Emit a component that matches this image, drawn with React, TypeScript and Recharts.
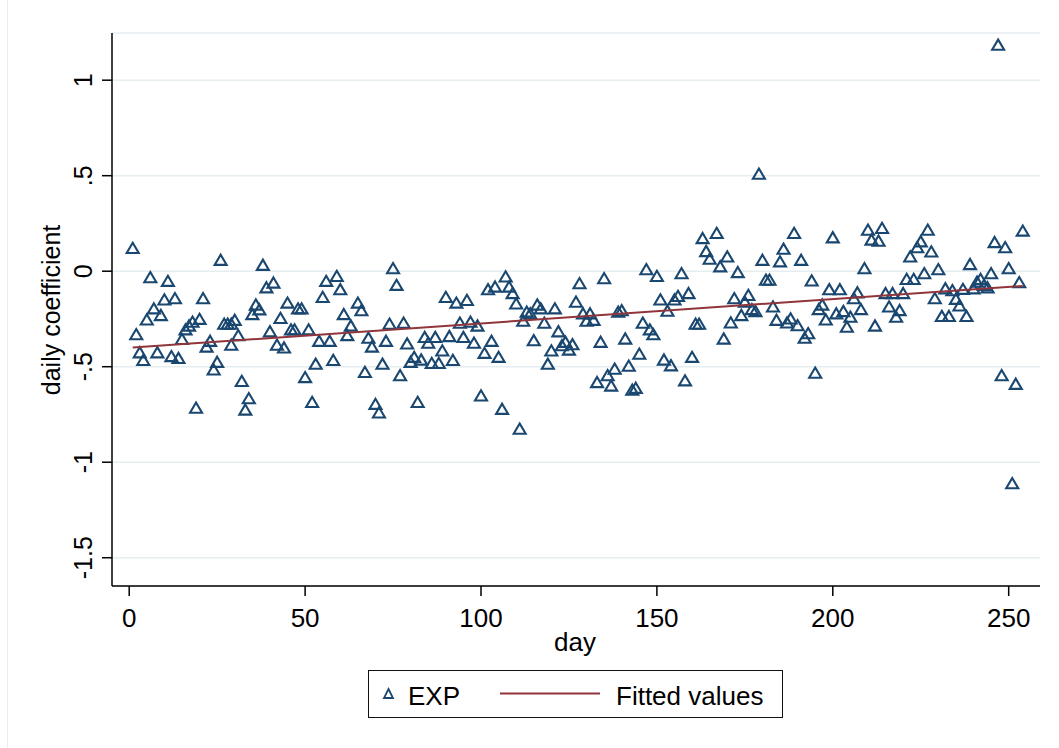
import React from "react"
import { ScatterChart, Scatter, XAxis, YAxis, CartesianGrid } from "recharts"

// day index and the EXP daily coefficient
const days = [
  1, 2, 3, 4, 5, 6, 7, 8, 9, 10,
  11, 12, 13, 14, 15, 16, 17, 18, 19, 20,
  21, 22, 23, 24, 25, 26, 27, 28, 29, 29,
  30, 31, 32, 33, 34, 35, 36, 37, 38, 39,
  40, 41, 42, 43, 44, 45, 46, 47, 48, 49,
  50, 51, 52, 53, 54, 55, 56, 57, 58, 59,
  60, 61, 62, 63, 65, 66, 67, 68, 69, 70,
  71, 72, 73, 74, 75, 76, 77, 78, 79, 80,
  81, 82, 83, 84, 85, 86, 87, 88, 89, 90,
  91, 92, 93, 94, 95, 96, 97, 98, 99, 100,
  101, 102, 103, 104, 105, 106, 107, 108, 109, 110,
  111, 112, 113, 114, 115, 116, 117, 118, 119, 120,
  121, 122, 123, 124, 125, 126, 127, 128, 129, 130,
  131, 132, 133, 134, 135, 136, 137, 138, 139, 140,
  141, 142, 143, 144, 145, 146, 147, 148, 149, 150,
  151, 152, 153, 154, 155, 156, 157, 158, 159, 160,
  161, 162, 163, 164, 165, 167, 168, 169, 170, 171,
  172, 173, 174, 175, 176, 177, 178, 179, 180, 181,
  182, 183, 184, 185, 186, 187, 188, 189, 190, 191,
  192, 193, 194, 195, 196, 197, 198, 199, 200, 201,
  202, 203, 204, 205, 206, 207, 208, 209, 210, 211,
  212, 213, 214, 215, 216, 217, 218, 219, 220, 221,
  222, 223, 224, 225, 226, 227, 228, 229, 230, 231,
  232, 233, 234, 235, 236, 237, 238, 239, 240, 241,
  242, 243, 244, 245, 246, 247, 248, 249, 250, 251,
  252, 253, 254,
]

const expValues = [
  0.116, -0.335, -0.43, -0.47, -0.258, -0.037, -0.2, -0.43, -0.235, -0.153,
  -0.056, -0.45, -0.147, -0.46, -0.36, -0.31, -0.29, -0.27, -0.72, -0.255,
  -0.147, -0.4, -0.37, -0.52, -0.48, 0.054, -0.28, -0.28, -0.28, -0.39,
  -0.26, -0.34, -0.58, -0.73, -0.67, -0.23, -0.18, -0.205, 0.028, -0.09,
  -0.32, -0.065, -0.39, -0.25, -0.405, -0.17, -0.31, -0.31, -0.2, -0.2,
  -0.56, -0.31, -0.69, -0.49, -0.37, -0.14, -0.056, -0.37, -0.47, -0.03,
  -0.1, -0.23, -0.34, -0.29, -0.17, -0.21, -0.533, -0.354, -0.4, -0.7,
  -0.745, -0.49, -0.37, -0.28, 0.01, -0.077, -0.55, -0.275, -0.384, -0.48,
  -0.454, -0.69, -0.468, -0.35, -0.38, -0.486, -0.35, -0.486, -0.42, -0.14,
  -0.345, -0.47, -0.17, -0.275, -0.35, -0.156, -0.27, -0.38, -0.29, -0.656,
  -0.433, -0.1, -0.37, -0.086, -0.454, -0.726, -0.033, -0.086, -0.12, -0.174,
  -0.83, -0.265, -0.217, -0.226, -0.367, -0.18, -0.2, -0.275, -0.49, -0.42,
  -0.2, -0.32, -0.393, -0.375, -0.416, -0.388, -0.165, -0.068, -0.226, -0.265,
  -0.226, -0.26, -0.586, -0.375, -0.042, -0.55, -0.604, -0.516, -0.217, -0.21,
  -0.358, -0.5, -0.626, -0.616, -0.437, -0.275, 0.005, -0.31, -0.335, -0.03,
  -0.153, -0.468, -0.212, -0.498, -0.153, -0.135, -0.016, -0.577, -0.12, -0.454,
  -0.28, -0.28, 0.168, 0.1, 0.06, 0.195, 0.02, -0.358, 0.072, -0.274,
  -0.147, -0.01, -0.235, -0.165, -0.13, -0.204, -0.214, 0.505, 0.054, -0.05,
  -0.05, -0.19, -0.26, 0.046, 0.112, -0.274, -0.253, 0.195, -0.288, 0.054,
  -0.354, -0.33, -0.054, -0.537, -0.204, -0.18, -0.258, -0.1, 0.172, -0.226,
  -0.1, -0.214, -0.296, -0.244, -0.147, -0.116, -0.204, 0.01, 0.212, 0.16,
  -0.29, 0.154, 0.221, -0.12, -0.19, -0.12, -0.244, -0.209, -0.12, -0.046,
  0.072, -0.046, 0.12, 0.151, -0.016, 0.212, 0.098, -0.147, 0.005, -0.24,
  -0.095, -0.24, -0.105, -0.15, -0.185, -0.098, -0.24, 0.032, -0.095, -0.06,
  -0.046, -0.077, -0.09, -0.016, 0.147, 1.18, -0.55, 0.12, 0.01, -1.115,
  -0.595, -0.063, 0.207,
]

// ends of the fitted line
const fittedDays = [1, 254]
const fittedValues = [-0.4, -0.077]

const xTicks = [0, 50, 100, 150, 200, 250]
const yTicks = [-1.5, -1, -0.5, 0, 0.5, 1]
const yTickLabels = ["-1.5", "-1", "-.5", "0", ".5", "1"]

const NAVY = "#1a476f"
const MAROON = "#90353b"
const FONT = '"Liberation Sans", Arial, Helvetica, sans-serif'
const FS = 25

const expData = days.map((d, i) => ({ day: d, value: expValues[i] }))
const fittedData = fittedDays.map((d, i) => ({ day: d, value: fittedValues[i] }))

const Triangle = (props: any) => {
  const { cx, cy } = props
  if (cx == null || cy == null) return <g />
  return (
    <path
      d={`M${cx},${cy - 6.2} L${cx + 6},${cy + 4} L${cx - 6},${cy + 4} Z`}
      fill="none"
      stroke={NAVY}
      strokeWidth={2.1}
    />
  )
}

const XTick = ({ x, payload }: any) => (
  <text x={x} y={627} textAnchor="middle" fontSize={FS + 1} fontFamily={FONT} fill="#000">
    {payload.value}
  </text>
)

const YTick = ({ y, payload }: any) => {
  const label = yTickLabels[yTicks.indexOf(payload.value)]
  return (
    <text x={92} y={y} transform={`rotate(-90, 92, ${y})`} textAnchor="middle" fontSize={FS} fontFamily={FONT} fill="#000">
      {label}
    </text>
  )
}

export default function App() {
  return (
    <div style={{ position: "absolute", left: 0, top: 0, width: 1059, height: 748, background: "#fff" }}>
      <div style={{ position: "absolute", left: 7, top: 0, width: 1, height: 748, background: "#ececec" }} />
      <ScatterChart width={1059} height={748} margin={{ top: 33, right: 19, left: 0, bottom: 92 }}>
        <CartesianGrid vertical={false} stroke="#e5edf0" strokeWidth={1.6} />
        <XAxis
          type="number"
          dataKey="day"
          domain={[-4.89, 258.9]}
          ticks={xTicks}
          allowDataOverflow
          height={70}
          tickSize={10}
          axisLine={{ stroke: "#000", strokeWidth: 1.5 }}
          tickLine={{ stroke: "#000", strokeWidth: 1.5 }}
          tick={<XTick />}
          label={() => (
            <text x={575} y={651} textAnchor="middle" fontSize={FS + 1} fontFamily={FONT} fill="#000">
              day
            </text>
          )}
        />
        <YAxis
          type="number"
          dataKey="value"
          domain={[-1.648, 1.247]}
          ticks={yTicks}
          allowDataOverflow
          width={112}
          tickSize={10}
          axisLine={{ stroke: "#000", strokeWidth: 1.5 }}
          tickLine={{ stroke: "#000", strokeWidth: 1.5 }}
          tick={<YTick />}
          label={() => (
            <text x={60} y={310} transform="rotate(-90, 60, 310)" textAnchor="middle" fontSize={FS} fontFamily={FONT} fill="#000">
              daily coefficient
            </text>
          )}
        />
        <Scatter name="EXP" data={expData} shape={<Triangle />} isAnimationActive={false} />
        <Scatter
          name="Fitted values"
          data={fittedData}
          line={{ stroke: MAROON, strokeWidth: 2 }}
          shape={() => <g />}
          isAnimationActive={false}
        />
      </ScatterChart>
      <div
        style={{
          position: "absolute",
          left: 368,
          top: 670,
          width: 413,
          height: 46,
          border: "1.5px solid #111",
          background: "#fff",
        }}
      >
        <svg width={413} height={46} style={{ display: "block" }}>
          <path d="M19.5,18 L24,27 L15,27 Z" fill="none" stroke={NAVY} strokeWidth={1.8} />
          <text x={39} y={34} fontSize={FS + 1} fontFamily={FONT} fill="#000">EXP</text>
          <line x1={131} x2={231} y1={22.5} y2={22.5} stroke={MAROON} strokeWidth={2} />
          <text x={247} y={34} fontSize={FS + 1} fontFamily={FONT} fill="#000">Fitted values</text>
        </svg>
      </div>
    </div>
  )
}
